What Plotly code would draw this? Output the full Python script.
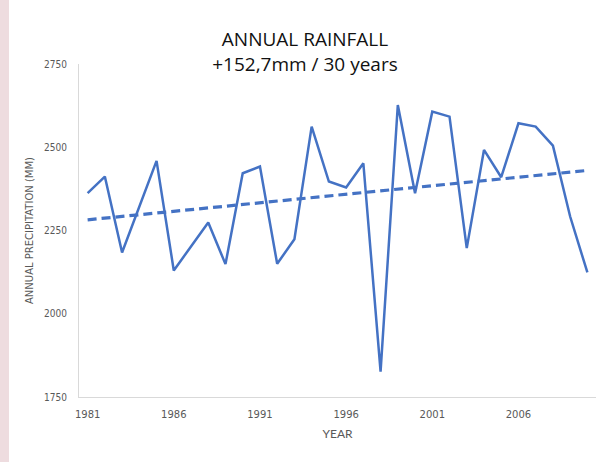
import numpy as np
import plotly.graph_objects as go

# Annual precipitation record, 1981-2010 (mm)
years = list(range(1981, 2011))
rainfall = [2362, 2412, 2184, 2320, 2459, 2130, 2202, 2274, 2149, 2422,
            2442, 2150, 2224, 2562, 2397, 2379, 2452, 1826, 2627, 2362,
            2607, 2592, 2197, 2492, 2410, 2572, 2562, 2505, 2292, 2124]
tick_years = [1981, 1986, 1991, 1996, 2001, 2006]
y_ticks = [1750, 2000, 2250, 2500, 2750]

# Linear trend over the period
coef = np.polyfit(years, rainfall, 1)
trend = np.polyval(coef, years)

BLUE = "#4472C4"
GREY = "#595959"

fig = go.Figure()
fig.add_trace(go.Scatter(x=years, y=rainfall, mode="lines",
                         line=dict(color=BLUE, width=2.5), showlegend=False))
fig.add_trace(go.Scatter(x=years, y=trend, mode="lines",
                         line=dict(color=BLUE, width=3.2, dash="9px,5px"),
                         showlegend=False))

W, H = 602, 462
L, R, T, B = 79, 6, 64, 65
pw = W - L - R

fig.update_layout(
    width=W, height=H,
    margin=dict(l=L, r=R, t=T, b=B),
    paper_bgcolor="white", plot_bgcolor="white",
    title=dict(text="ANNUAL RAINFALL<br>+152,7mm / 30 years",
               x=305 / W, xref="container", xanchor="center",
               y=1 - 46 / H, yref="container", yanchor="middle",
               font=dict(family="Open Sans, Lato, sans-serif", size=19,
                         color="#111111", weight=500)),
    xaxis=dict(range=[1980.5, 2010.5], tickvals=tick_years,
               ticktext=[str(v) for v in tick_years],
               showgrid=False, zeroline=False,
               showline=True, linecolor="#d9d9d9", linewidth=1,
               ticks="", ticklabelstandoff=8,
               tickfont=dict(family="DejaVu Sans, sans-serif", size=10, color=GREY),
               title=dict(text="YEAR", standoff=10,
                          font=dict(family="Lato, Open Sans, sans-serif", size=12, color=GREY))),
    yaxis=dict(range=[1750, 2750], tickvals=y_ticks,
               showgrid=False, zeroline=False,
               showline=True, linecolor="#d9d9d9", linewidth=1,
               ticks="", ticklabelstandoff=9,
               tickfont=dict(family="DejaVu Sans Condensed, Liberation Sans Narrow, sans-serif",
                             size=10, color=GREY),
               title=dict(text="ANNUAL PRECIPITATION (MM)", standoff=8,
                          font=dict(family="DejaVu Sans, sans-serif", size=10, color=GREY))),
    shapes=[dict(type="rect", xref="paper", yref="paper",
                 x0=(0 - L) / pw, x1=(9 - L) / pw, y0=-B / (H - T - B), y1=1 + T / (H - T - B),
                 fillcolor="#eedcdf", line=dict(width=0), layer="below")],
)

fig.write_html("out.html")
